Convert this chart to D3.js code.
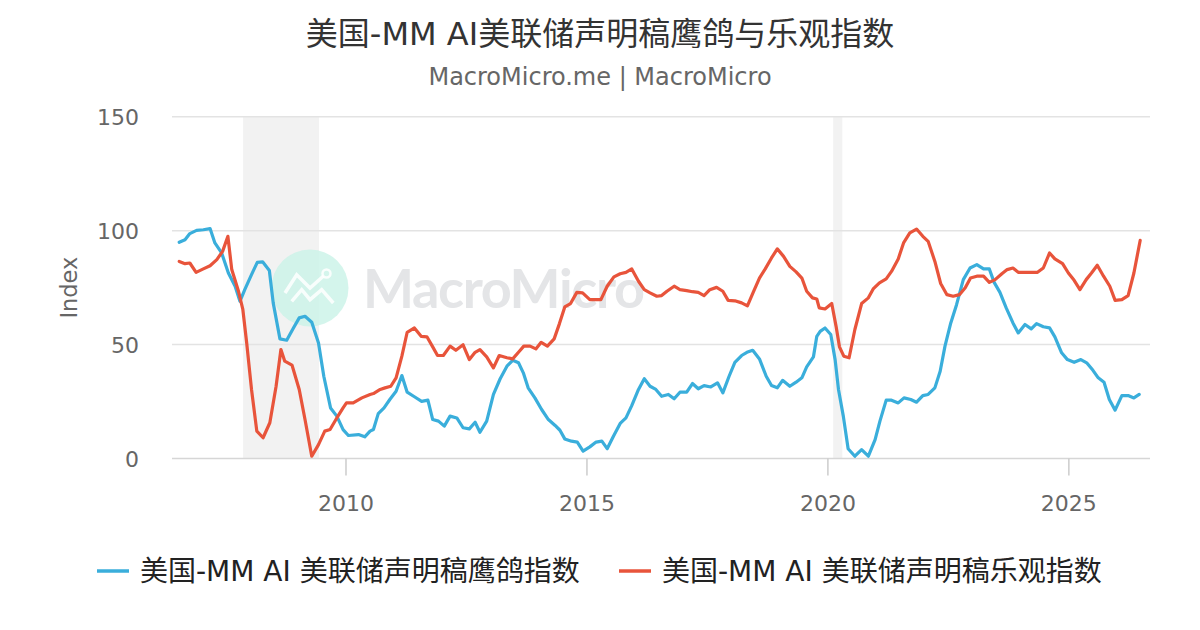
<!DOCTYPE html>
<html>
<head>
<meta charset="utf-8">
<script src="https://cdn.jsdelivr.net/npm/d3@7"></script>
<style>
  body { margin: 0; background: #fff; }
  text { font-family: "DejaVu Sans", "Noto Sans CJK SC", sans-serif; }
</style>
</head>
<body>
<svg id="chart" width="1200" height="630"></svg>
<script>
// ---- data (decimal year, index value) ----
const hawkT = [2006.55,2006.67,2006.77,2006.91,2007.05,2007.19,2007.29,2007.43,2007.57,2007.71,2007.81,2007.91,
  2008.05,2008.17,2008.28,2008.42,2008.50,2008.64,2008.78,2008.92,2009.04,2009.16,2009.30,2009.44,2009.55,2009.69,
  2009.82,2009.95,2010.06,2010.27,2010.40,2010.51,2010.58,2010.68,2010.80,2010.92,2011.05,2011.17,2011.28,2011.43,
  2011.58,2011.71,2011.81,2011.93,2012.05,2012.17,2012.31,2012.44,2012.57,2012.69,2012.79,2012.93,2013.07,2013.21,
  2013.35,2013.47,2013.59,2013.69,2013.79,2013.93,2014.07,2014.21,2014.35,2014.45,2014.55,2014.69,2014.81,2014.93,
  2015.07,2015.20,2015.32,2015.43,2015.56,2015.70,2015.82,2015.94,2016.08,2016.20,2016.32,2016.44,2016.56,2016.70,
  2016.82,2016.94,2017.08,2017.20,2017.32,2017.44,2017.58,2017.72,2017.83,2017.96,2018.08,2018.22,2018.33,2018.45,
  2018.59,2018.73,2018.84,2018.96,2019.07,2019.22,2019.35,2019.47,2019.57,2019.71,2019.78,2019.85,2019.95,2020.07,
  2020.16,2020.23,2020.33,2020.43,2020.57,2020.71,2020.85,2020.99,2021.09,2021.22,2021.33,2021.47,2021.59,2021.73,
  2021.85,2021.98,2022.09,2022.23,2022.34,2022.44,2022.56,2022.68,2022.82,2022.96,2023.10,2023.24,2023.36,2023.46,
  2023.58,2023.71,2023.85,2023.96,2024.10,2024.23,2024.34,2024.48,2024.61,2024.72,2024.86,2024.98,2025.12,2025.26,
  2025.38,2025.51,2025.62,2025.74,2025.85,2025.97,2026.11,2026.24,2026.36,2026.47];
const hawkV = [94.9,96.0,98.7,100.1,100.4,100.9,94.6,90.2,81.4,75.6,69.0,74.1,
  80.7,86.1,86.3,82.5,68.3,52.5,51.9,57.3,61.7,62.4,59.8,50.7,36.1,22.2,
  18.6,12.7,10.1,10.5,9.5,12.0,12.7,19.7,22.2,25.9,29.5,36.4,29.1,27.1,
  25.1,25.6,17.1,16.4,14.2,18.6,17.8,13.5,13.0,15.9,11.5,16.4,28.1,35.0,
  40.5,43.1,42.0,37.6,31.0,26.6,21.5,17.1,14.5,12.4,8.6,7.6,7.2,3.2,
  5.1,7.2,7.6,4.3,9.8,15.4,17.8,23.2,30.3,35.0,31.7,30.3,27.3,28.1,
  26.2,29.1,29.1,32.9,30.6,32.0,31.4,33.2,28.8,36.1,42.2,45.2,46.6,47.5,
  43.7,36.1,32.0,31.0,34.3,31.7,33.5,35.4,40.2,44.6,53.6,55.8,57.3,54.4,
  43.4,30.3,18.6,4.3,1.0,3.9,1.0,8.3,16.4,25.6,25.6,24.4,26.6,25.9,
  24.7,27.6,28.1,31.0,38.3,49.3,59.5,67.5,78.5,83.6,85.1,83.2,83.2,77.3,
  72.9,66.1,59.5,55.1,58.8,56.9,59.2,57.8,57.3,53.4,46.4,43.4,42.2,43.4,
  42.0,38.7,35.4,33.5,25.9,21.2,27.6,27.6,26.6,28.1];

const optT = [2006.55,2006.67,2006.77,2006.90,2007.05,2007.19,2007.33,2007.45,2007.56,2007.64,2007.78,2007.87,
  2007.95,2008.05,2008.16,2008.29,2008.43,2008.56,2008.66,2008.74,2008.89,2009.04,2009.16,2009.30,2009.44,2009.57,
  2009.68,2009.82,2009.95,2010.02,2010.16,2010.34,2010.51,2010.58,2010.72,2010.82,2010.94,2011.05,2011.17,2011.28,
  2011.43,2011.57,2011.69,2011.81,2011.91,2012.03,2012.17,2012.29,2012.44,2012.57,2012.69,2012.79,2012.93,2013.07,
  2013.19,2013.35,2013.47,2013.59,2013.70,2013.83,2013.95,2014.06,2014.19,2014.33,2014.44,2014.55,2014.67,2014.80,
  2014.92,2015.07,2015.30,2015.43,2015.57,2015.70,2015.82,2015.94,2016.08,2016.20,2016.32,2016.46,2016.56,2016.67,
  2016.82,2016.94,2017.08,2017.20,2017.32,2017.44,2017.56,2017.70,2017.83,2017.94,2018.08,2018.22,2018.34,2018.46,
  2018.59,2018.71,2018.84,2018.96,2019.09,2019.22,2019.35,2019.47,2019.57,2019.69,2019.78,2019.83,2019.95,2020.09,
  2020.18,2020.25,2020.34,2020.45,2020.57,2020.71,2020.85,2020.95,2021.08,2021.22,2021.33,2021.47,2021.58,2021.71,
  2021.85,2021.98,2022.09,2022.23,2022.35,2022.48,2022.61,2022.74,2022.86,2022.97,2023.10,2023.24,2023.36,2023.48,
  2023.62,2023.73,2023.85,2023.96,2024.10,2024.23,2024.36,2024.48,2024.61,2024.72,2024.88,2025.00,2025.12,2025.24,
  2025.37,2025.48,2025.60,2025.73,2025.86,2025.97,2026.11,2026.24,2026.36,2026.49];
const optV = [86.5,85.5,85.8,81.7,83.2,84.6,87.3,90.9,97.5,82.9,73.4,65.4,
  50.7,30.3,12.0,9.1,15.7,31.7,47.8,42.7,41.0,30.3,17.1,1.0,6.1,12.0,
  12.7,17.8,22.2,24.4,24.4,26.6,28.1,28.5,30.3,31.0,31.7,35.4,44.9,55.4,
  57.3,53.6,53.4,49.0,45.2,45.2,49.3,47.5,49.9,43.4,46.6,47.8,44.6,39.8,
  45.2,44.2,43.7,46.6,49.3,49.3,48.1,51.0,49.3,52.5,59.2,66.5,68.0,72.9,
  72.7,69.7,69.7,75.6,79.7,81.1,81.7,83.2,77.8,74.1,72.7,71.2,71.5,73.4,
  75.6,74.1,73.7,73.2,72.9,71.5,74.1,75.1,73.4,69.4,69.2,68.3,67.0,72.9,
  79.2,83.2,88.0,92.0,88.7,84.3,81.9,79.2,73.4,70.5,70.0,66.1,65.6,68.0,
  58.0,49.0,44.9,44.2,56.6,68.0,70.5,74.4,77.1,78.8,82.1,87.6,94.6,99.0,
  100.7,97.5,95.3,86.5,76.8,71.9,71.2,71.9,74.9,79.2,80.0,80.0,77.3,78.5,
  81.1,82.9,83.6,81.7,81.7,81.7,81.7,83.6,90.2,87.6,85.5,81.4,78.2,74.1,
  78.5,81.4,84.8,80.0,75.6,69.4,69.7,71.5,81.4,95.7];

const recessions = [[2007.875, 2009.45], [2020.12, 2020.31]];
const yTicks = [0, 50, 100, 150];
const xTicks = [2010, 2015, 2020, 2025];

const titleText = "美国-MM AI美联储声明稿鹰鸽与乐观指数";
const subtitleText = "MacroMicro.me | MacroMicro";
const seriesNames = ["美国-MM AI 美联储声明稿鹰鸽指数", "美国-MM AI 美联储声明稿乐观指数"];
const colors = ["#3aaedb", "#e8543b"];

// ---- layout ----
const svg = d3.select("#chart");
const plot = { left: 172, right: 1150, top: 116.7, bottom: 458.5 };

const x = d3.scaleLinear().domain([2006.40, 2026.694]).range([plot.left, plot.right]);
const y = d3.scaleLinear().domain([0, 150]).range([plot.bottom, plot.top]);

// title
svg.append("text").attr("x", 600).attr("y", 45).attr("text-anchor", "middle")
  .attr("font-size", 32).attr("fill", "#333").text(titleText);
svg.append("text").attr("x", 600).attr("y", 85).attr("text-anchor", "middle")
  .attr("font-size", 24).attr("fill", "#666").text(subtitleText);

// recession bands
svg.append("g").selectAll("rect").data(recessions).join("rect")
  .attr("x", d => x(d[0])).attr("width", d => x(d[1]) - x(d[0]))
  .attr("y", plot.top).attr("height", plot.bottom - plot.top)
  .attr("fill", "#f2f2f2");

// grid lines
svg.append("g").selectAll("line").data(yTicks).join("line")
  .attr("x1", plot.left).attr("x2", plot.right)
  .attr("y1", d => y(d)).attr("y2", d => y(d))
  .attr("stroke", d => d === 0 ? "#d6d6d6" : "#e3e3e3").attr("stroke-width", 1.5);

// y tick labels
svg.append("g").selectAll("text").data(yTicks).join("text")
  .attr("x", 139).attr("y", d => y(d) + 8).attr("text-anchor", "end")
  .attr("font-size", 22).attr("fill", "#666").text(d => d);

svg.append("text")
  .attr("transform", "translate(77," + ((plot.top + plot.bottom) / 2) + ") rotate(-90)")
  .attr("text-anchor", "middle").attr("font-size", 22.5).attr("fill", "#666").text("Index");

// x axis
const xAxis = d3.axisBottom(x).tickValues(xTicks).tickFormat(d3.format("d")).tickSize(17).tickSizeOuter(0);
const gx = svg.append("g").attr("transform", "translate(0," + plot.bottom + ")").call(xAxis);
gx.select(".domain").remove();
gx.selectAll(".tick line").attr("stroke", "#ccc").attr("stroke-width", 1.5);
gx.selectAll(".tick text").attr("font-size", 22).attr("fill", "#666").attr("y", 52.5).attr("dy", 0)
  .style("font-family", "'DejaVu Sans', sans-serif");

// watermark
const wm = svg.append("g").attr("transform", "translate(310,288)");
wm.append("circle").attr("r", 38.5).attr("fill", "#c9f2e7").attr("opacity", 0.8);
wm.append("polyline").attr("points", "-25,5 -13.3,-13.3 0,0 13.5,-12")
  .attr("fill", "none").attr("stroke", "#fff").attr("stroke-width", 3.5).attr("opacity", 0.85);
wm.append("circle").attr("cx", 16.5).attr("cy", -14.5).attr("r", 4)
  .attr("fill", "none").attr("stroke", "#fff").attr("stroke-width", 2.5).attr("opacity", 0.85);
wm.append("polyline").attr("points", "-18.3,13.3 -8.3,1.7 0,11.7 11.7,1.7 23.3,15")
  .attr("fill", "none").attr("stroke", "#fff").attr("stroke-width", 3.5).attr("opacity", 0.85);
svg.append("text").attr("x", 363).attr("y", 308).attr("font-size", 54).attr("font-weight", 700)
  .attr("textLength", 282).attr("fill", "#e4e5e7").style("font-family", "Lato, sans-serif")
  .text("MacroMicro");

// lines
const line = d3.line().x(d => x(d[0])).y(d => y(d[1]));
const series = [d3.zip(hawkT, hawkV), d3.zip(optT, optV)];
svg.append("g").selectAll("path").data(series).join("path")
  .attr("d", line).attr("fill", "none")
  .attr("stroke", (d, i) => colors[i]).attr("stroke-width", 3.2)
  .attr("stroke-linejoin", "round").attr("stroke-linecap", "round");

// legend
const legendX = [97, 619];
const lg = svg.append("g").selectAll("g").data(seriesNames).join("g")
  .attr("transform", (d, i) => "translate(" + legendX[i] + ",571)");
lg.append("line").attr("x1", 0).attr("x2", 32).attr("y1", 0).attr("y2", 0)
  .attr("stroke", (d, i) => colors[i]).attr("stroke-width", 3.5);
lg.append("text").attr("x", 43).attr("y", 10).attr("font-size", 28).attr("fill", "#222").text(d => d);
</script>
</body>
</html>
